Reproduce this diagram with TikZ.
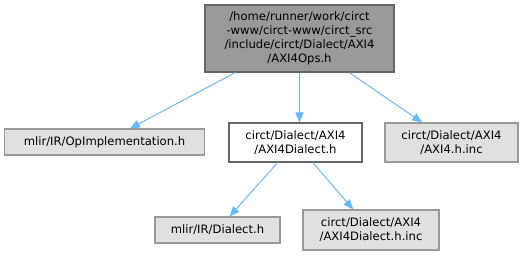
\documentclass[tikz,border=0pt]{standalone}
\usepackage{fontspec}
\setmainfont{DejaVu Sans}
\usepackage{xcolor}
\usetikzlibrary{arrows.meta,positioning}

\definecolor{edgeblue}{HTML}{63B8FF}
\definecolor{boxgray}{HTML}{E0E0E0}
\definecolor{topgray}{HTML}{999999}
\definecolor{framegray}{HTML}{999999}

\begin{document}
\begin{tikzpicture}[x=0.75pt, y=-0.75pt,
  header/.style={draw=framegray, line width=0.8pt, fill=boxgray, align=center,
    inner sep=0pt, font=\fontsize{8.7pt}{10.5pt}\selectfont},
  current/.style={header, fill=topgray, draw=black!60},
  local/.style={header, fill=white, draw=black!60},
  incl/.style={-{Triangle[length=7.5pt, width=6pt]}, draw=edgeblue, fill=edgeblue, line width=0.7pt}
]
\useasboundingbox (0,0) rectangle (531,256);

\node[current, minimum width=141.75pt, minimum height=50.25pt] (ops) at (299.5,38.5)
  {/home/runner/work/circt\\-www/circt-www/circt\_src\\/include/circt/Dialect/AXI4\\/AXI4Ops.h};
\node[header, minimum width=150pt, minimum height=19.5pt] (opimpl) at (104.5,142)
  {mlir/IR/OpImplementation.h};
\node[local, minimum width=99.75pt, minimum height=29.25pt] (dialect) at (295.5,142.5)
  {circt/Dialect/AXI4\\/AXI4Dialect.h};
\node[header, minimum width=99.75pt, minimum height=29.25pt] (axiinc) at (451.5,142.5)
  {circt/Dialect/AXI4\\/AXI4.h.inc};
\node[header, minimum width=93.75pt, minimum height=19.5pt] (irdialect) at (217.5,230)
  {mlir/IR/Dialect.h};
\node[header, minimum width=102pt, minimum height=30pt] (dialectinc) at (371,230)
  {circt/Dialect/AXI4\\/AXI4Dialect.h.inc};

\draw[incl] (ops) -- (opimpl);
\draw[incl] (ops.south) -- (ops.south |- dialect.north);
\draw[incl] (ops) -- (axiinc);
\draw[incl] (dialect) -- (irdialect);
\draw[incl] (dialect) -- (dialectinc);
\end{tikzpicture}
\end{document}
